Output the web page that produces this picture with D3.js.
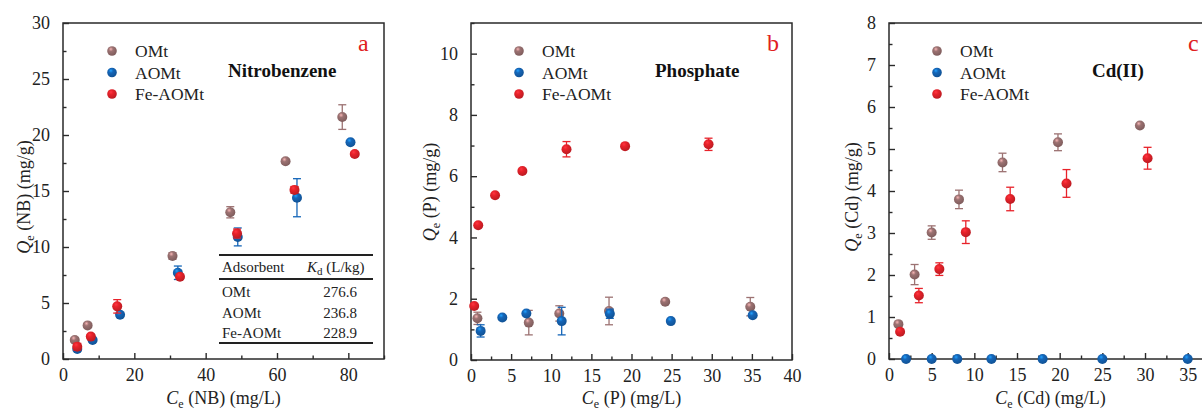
<!DOCTYPE html>
<html>
<head>
<meta charset="utf-8">
<script src="https://cdn.jsdelivr.net/npm/d3@7"></script>
<style>
  html, body { margin: 0; padding: 0; background: #fff; }
  svg { display: block; font-family: "Liberation Serif", "Times New Roman", serif; }
</style>
</head>
<body>
<svg id="chart" width="1202" height="410"></svg>
<script>
// ---------- DATA ----------
const seriesNames = ["OMt", "AOMt", "Fe-AOMt"];
const seriesColors = ["#9c7272", "#1566b8", "#e8222a"];

// Panel a: Nitrobenzene  [Ce, Qe, err]
const nbOMt   = [[3.3,1.7,0.2],[6.9,3.0,0.15],[30.7,9.2,0.3],[46.9,13.1,0.5],[62.4,17.65,0.2],[78.3,21.6,1.1]];
const nbAOMt  = [[4.0,0.9,0.15],[8.3,1.7,0.15],[16.0,3.95,0.2],[32.2,7.7,0.6],[49.0,10.9,0.8],[65.6,14.4,1.7],[80.6,19.35,0.15]];
const nbFe    = [[4.0,1.1,0.3],[7.8,2.0,0.2],[15.2,4.7,0.6],[32.8,7.35,0.2],[48.8,11.2,0.4],[64.9,15.1,0.3],[81.8,18.3,0.2]];
const kdTableRows = [["OMt","276.6"],["AOMt","236.8"],["Fe-AOMt","228.9"]];

// Panel b: Phosphate
const pOMt   = [[0.8,1.36,0.2],[7.2,1.22,0.4],[11.0,1.52,0.25],[17.2,1.6,0.45],[24.2,1.9,0.05],[34.8,1.74,0.3]];
const pAOMt  = [[1.2,0.95,0.2],[3.9,1.39,0.05],[6.9,1.52,0.05],[11.3,1.27,0.45],[17.3,1.51,0.15],[24.9,1.27,0.05],[35.1,1.46,0.05]];
const pFe    = [[0.4,1.76,0.05],[0.9,4.4,0.05],[3.0,5.38,0.05],[6.4,6.17,0.05],[11.9,6.88,0.25],[19.2,6.98,0.05],[29.6,7.04,0.2]];

// Panel c: Cd(II)
const cdOMt  = [[1.1,0.83,0.05],[3.0,2.01,0.24],[5.0,3.01,0.16],[8.2,3.8,0.22],[13.3,4.68,0.22],[19.8,5.16,0.2],[29.4,5.56,0.05]];
const cdAOMt = [[2,0,0],[5,0,0],[8,0,0],[12,0,0],[18,0,0],[25,0,0],[35,0,0]];
const cdFe   = [[1.3,0.65,0.05],[3.5,1.51,0.17],[5.9,2.14,0.15],[9.0,3.02,0.27],[14.2,3.81,0.28],[20.8,4.18,0.33],[30.3,4.78,0.26]];

// ---------- DRAW ----------
const svg = d3.select("#chart");
const defs = svg.append("defs");
seriesColors.forEach((c, i) => {
  const g = defs.append("radialGradient").attr("id", "ball" + i)
    .attr("cx", "40%").attr("cy", "35%").attr("r", "65%").attr("fx", "38%").attr("fy", "30%");
  g.append("stop").attr("offset", "0%").attr("stop-color", d3.color(c).brighter(1.3));
  g.append("stop").attr("offset", "35%").attr("stop-color", c);
  g.append("stop").attr("offset", "100%").attr("stop-color", d3.color(c).darker(0.6));
});

const panels = [
  { left: 63, right: 384, top: 23, bottom: 359, xd: [0, 90], yd: [0, 30], xMaj: 20, xMin: 10, yMaj: 5, yMin: 2.5,
    series: [nbOMt, nbAOMt, nbFe], title: "Nitrobenzene", titleX: 228, letter: "a", letterX: 358,
    legX: 112, sub: "NB", ylabX: 30, ylabY: 197 },
  { left: 471, right: 792, top: 23, bottom: 360, xd: [0, 40], yd: [0, 11], xMaj: 5, xMin: 2.5, yMaj: 2, yMin: 1,
    series: [pOMt, pAOMt, pFe], title: "Phosphate", titleX: 655, letter: "b", letterX: 767,
    legX: 519, sub: "P", ylabX: 436, ylabY: 192 },
  { left: 889, right: 889 + 40 * 8.534, top: 23, bottom: 359, xd: [0, 40], yd: [0, 8], xMaj: 5, xMin: 2.5, yMaj: 1, yMin: 0.5,
    series: [cdOMt, cdAOMt, cdFe], title: "Cd(II)", titleX: 1092, letter: "c", letterX: 1188,
    legX: 937, sub: "Cd", ylabX: 858, ylabY: 197 }
];

const axisColor = "#2a2a2a";
const fs = 18;

panels.forEach((p, pi) => {
  const x = d3.scaleLinear().domain(p.xd).range([p.left, p.right]);
  const y = d3.scaleLinear().domain(p.yd).range([p.bottom, p.top]);
  const g = svg.append("g");

  // frame
  g.append("rect").attr("x", p.left).attr("y", p.top)
    .attr("width", p.right - p.left).attr("height", p.bottom - p.top)
    .attr("fill", "none").attr("stroke", axisColor).attr("stroke-width", 1.5);

  // x ticks
  const xMajTicks = d3.range(p.xd[0], p.xd[1] + 1e-9, p.xMaj);
  const xMinTicks = d3.range(p.xd[0], p.xd[1] + 1e-9, p.xMin).filter(v => Math.abs(v / p.xMaj - Math.round(v / p.xMaj)) > 1e-6);
  const xAxis = d3.axisBottom(x).tickValues(xMajTicks).tickSize(-6).tickPadding(16).tickFormat(d3.format("d"));
  const xa = g.append("g").attr("transform", `translate(0,${p.bottom})`).call(xAxis);
  xa.select(".domain").remove();
  xa.selectAll(".tick line").attr("stroke", axisColor).attr("stroke-width", 1.4);
  xa.selectAll(".tick text").attr("font-size", fs).attr("fill", "#222")
    .attr("font-family", "Liberation Serif").attr("dy", "0.35em");
  xa.selectAll(".tick").filter(d => x(d) > 1202).remove();
  const xAxisMin = d3.axisBottom(x).tickValues(xMinTicks).tickSize(-3.5).tickFormat("");
  const xam = g.append("g").attr("transform", `translate(0,${p.bottom})`).call(xAxisMin);
  xam.select(".domain").remove();
  xam.selectAll(".tick line").attr("stroke", axisColor).attr("stroke-width", 1.4);

  // y ticks
  const yMajTicks = d3.range(p.yd[0], p.yd[1] + 1e-9, p.yMaj);
  const yMinTicks = d3.range(p.yd[0], p.yd[1] + 1e-9, p.yMin).filter(v => Math.abs(v / p.yMaj - Math.round(v / p.yMaj)) > 1e-6);
  const yAxis = d3.axisLeft(y).tickValues(yMajTicks).tickSize(-6).tickPadding(13).tickFormat(d3.format("d"));
  const ya = g.append("g").attr("transform", `translate(${p.left},0)`).call(yAxis);
  ya.select(".domain").remove();
  ya.selectAll(".tick line").attr("stroke", axisColor).attr("stroke-width", 1.4);
  ya.selectAll(".tick text").attr("font-size", fs).attr("fill", "#222").attr("font-family", "Liberation Serif");
  const yAxisMin = d3.axisLeft(y).tickValues(yMinTicks).tickSize(-3.5).tickFormat("");
  const yam = g.append("g").attr("transform", `translate(${p.left},0)`).call(yAxisMin);
  yam.select(".domain").remove();
  yam.selectAll(".tick line").attr("stroke", axisColor).attr("stroke-width", 1.4);

  // axis labels
  const xl = g.append("text").attr("x", (p.left + Math.min(p.right, 1212)) / 2).attr("y", 404)
    .attr("text-anchor", "middle").attr("font-size", fs).attr("fill", "#222");
  xl.append("tspan").attr("font-style", "italic").text("C");
  xl.append("tspan").attr("font-size", 12).attr("dy", 4).text("e");
  xl.append("tspan").attr("dy", -4).text(` (${p.sub}) (mg/L)`);

  const yl = g.append("text").attr("transform", `translate(${p.ylabX},${p.ylabY}) rotate(-90)`)
    .attr("text-anchor", "middle").attr("font-size", fs).attr("fill", "#222");
  yl.append("tspan").attr("font-style", "italic").text("Q");
  yl.append("tspan").attr("font-size", 12).attr("dy", 4).text("e");
  yl.append("tspan").attr("dy", -4).text(` (${p.sub}) (mg/g)`);

  // error bars and points
  p.series.forEach((data, si) => {
    const col = seriesColors[si];
    const eb = g.append("g").attr("stroke", col).attr("stroke-width", 1.3);
    data.filter(d => d[2] > 0.08).forEach(d => {
      const cx = x(d[0]);
      eb.append("line").attr("x1", cx).attr("x2", cx).attr("y1", y(d[1] - d[2])).attr("y2", y(d[1] + d[2]));
      eb.append("line").attr("x1", cx - 4).attr("x2", cx + 4).attr("y1", y(d[1] - d[2])).attr("y2", y(d[1] - d[2]));
      eb.append("line").attr("x1", cx - 4).attr("x2", cx + 4).attr("y1", y(d[1] + d[2])).attr("y2", y(d[1] + d[2]));
    });
    g.append("g").selectAll("circle").data(data).join("circle")
      .attr("cx", d => x(d[0])).attr("cy", d => y(d[1])).attr("r", 5.0)
      .attr("fill", `url(#ball${si})`);
  });

  // legend
  seriesNames.forEach((n, i) => {
    const ly = 51 + i * 21.5;
    g.append("circle").attr("cx", p.legX).attr("cy", ly).attr("r", 4.8).attr("fill", `url(#ball${i})`);
    g.append("text").attr("x", p.legX + 23).attr("y", ly + 6).attr("font-size", 17.5).attr("fill", "#222").text(n);
  });

  // title and letter
  g.append("text").attr("x", p.titleX).attr("y", 77).attr("font-size", 19).attr("font-weight", "bold")
    .attr("fill", "#111").text(p.title);
  g.append("text").attr("x", p.letterX).attr("y", 51).attr("font-size", 24).attr("fill", "#e0201e").text(p.letter);

  // Kd table for panel a
  if (pi === 0) {
    const tl = 219, tr = 373;
    const t = g.append("g").attr("font-size", 15).attr("fill", "#222");
    [[255, 2], [279, 1.8], [343, 2]].forEach(([ly, w]) => {
      t.append("line").attr("x1", tl).attr("x2", tr).attr("y1", ly).attr("y2", ly).attr("stroke", "#222").attr("stroke-width", w);
    });
    t.append("text").attr("x", 222).attr("y", 272).text("Adsorbent");
    const kh = t.append("text").attr("x", 307).attr("y", 272);
    kh.append("tspan").attr("font-style", "italic").text("K");
    kh.append("tspan").attr("font-size", 11).attr("dy", 3).text("d");
    kh.append("tspan").attr("dy", -3).text(" (L/kg)");
    kdTableRows.forEach((r, i) => {
      const ry = 297 + i * 20.5;
      t.append("text").attr("x", 222).attr("y", ry).text(r[0]);
      t.append("text").attr("x", 357).attr("y", ry).attr("text-anchor", "end").text(r[1]);
    });
  }
});
</script>
</body>
</html>
